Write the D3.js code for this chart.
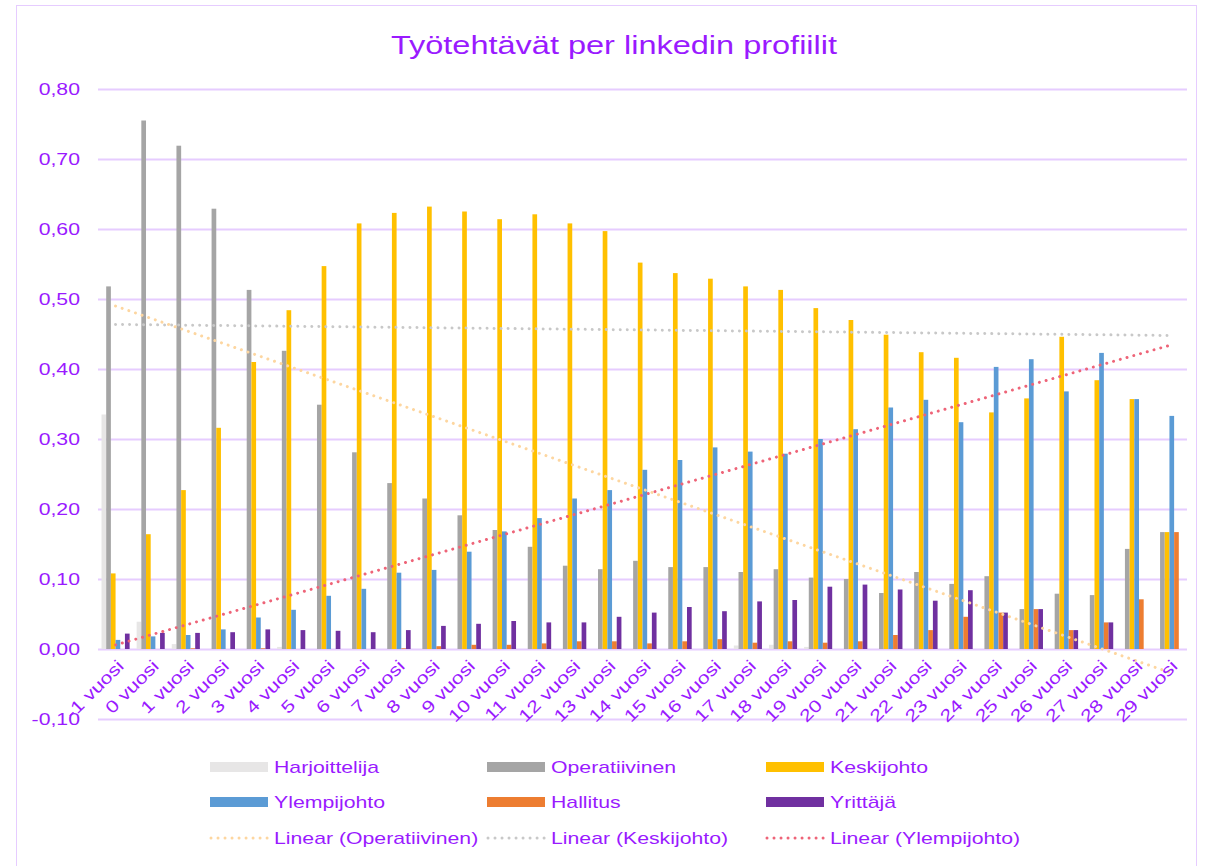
<!DOCTYPE html>
<html>
<head>
<meta charset="utf-8">
<title>Työtehtävät per linkedin profiilit</title>
<script src="https://d3js.org/d3.v7.min.js"></script>
<style>
  body { margin: 0; background: #fff; }
  text { font-family: "Liberation Sans", Arial, sans-serif; fill: #9A1AFF; }
</style>
</head>
<body>
<script type="text/javascript">

var width = 1210,
    height = 866,
    textColor = "#9A1AFF",
    gridColor = "#E6CCFF",
    stretch = 1.25; // the original font is drawn wider than Arial

var margin = { left: 98, right: 23, top: 89, bottom: 147 };

// data
var categories = ["-1 vuosi", "0 vuosi", "1 vuosi", "2 vuosi", "3 vuosi", "4 vuosi", "5 vuosi",
  "6 vuosi", "7 vuosi", "8 vuosi", "9 vuosi", "10 vuosi", "11 vuosi", "12 vuosi", "13 vuosi",
  "14 vuosi", "15 vuosi", "16 vuosi", "17 vuosi", "18 vuosi", "19 vuosi", "20 vuosi", "21 vuosi",
  "22 vuosi", "23 vuosi", "24 vuosi", "25 vuosi", "26 vuosi", "27 vuosi", "28 vuosi", "29 vuosi"];

var harjoittelija = [0.335, 0.039, 0.007, 0, 0, 0.003, 0, 0, 0, 0, 0, 0, 0, 0, 0, 0,
  0, 0, 0.005, 0.006, 0.003, 0, 0, 0, 0, 0, 0, 0, 0, 0, 0];
var operatiivinen = [0.518, 0.755, 0.719, 0.629, 0.513, 0.426, 0.349, 0.281, 0.237, 0.215, 0.191,
  0.170, 0.146, 0.119, 0.114, 0.126, 0.117, 0.117, 0.110, 0.114, 0.102, 0.100, 0.080, 0.110,
  0.093, 0.104, 0.057, 0.079, 0.077, 0.143, 0.167];
var keskijohto = [0.108, 0.164, 0.227, 0.316, 0.410, 0.484, 0.547, 0.608, 0.623, 0.632, 0.625,
  0.614, 0.621, 0.608, 0.597, 0.552, 0.537, 0.529, 0.518, 0.513, 0.487, 0.470, 0.449, 0.424,
  0.416, 0.338, 0.358, 0.446, 0.384, 0.357, 0.167];
var ylempijohto = [0.013, 0.018, 0.020, 0.028, 0.045, 0.056, 0.076, 0.086, 0.109, 0.113, 0.139,
  0.168, 0.187, 0.215, 0.227, 0.256, 0.270, 0.288, 0.282, 0.279, 0.300, 0.314, 0.345, 0.356,
  0.324, 0.403, 0.414, 0.368, 0.423, 0.357, 0.333];
var hallitus = [0, 0, 0.001, 0, 0.001, 0, 0, 0, 0.001, 0.004, 0.006, 0.006, 0.008, 0.011, 0.011,
  0.008, 0.011, 0.014, 0.009, 0.011, 0.009, 0.011, 0.020, 0.027, 0.046, 0.052, 0.057, 0.027,
  0.038, 0.071, 0.167];
var yrittaja = [0.022, 0.023, 0.023, 0.024, 0.028, 0.027, 0.026, 0.024, 0.027, 0.033, 0.036,
  0.040, 0.038, 0.038, 0.046, 0.052, 0.060, 0.054, 0.068, 0.070, 0.089, 0.092, 0.085, 0.069,
  0.084, 0.052, 0.057, 0.027, 0.038, 0, 0];

var yTicks = [-0.1, 0, 0.1, 0.2, 0.3, 0.4, 0.5, 0.6, 0.7, 0.8];

var series = [
  { name: "Harjoittelija", values: harjoittelija, color: "#E7E6E6" },
  { name: "Operatiivinen", values: operatiivinen, color: "#A5A5A5" },
  { name: "Keskijohto", values: keskijohto, color: "#FFC000" },
  { name: "Ylempijohto", values: ylempijohto, color: "#5B9BD5" },
  { name: "Hallitus", values: hallitus, color: "#ED7D31" },
  { name: "Yrittäjä", values: yrittaja, color: "#7030A0" }
];

var trends = [
  { name: "Linear (Operatiivinen)", values: operatiivinen, color: "#FDD6A0" },
  { name: "Linear (Keskijohto)", values: keskijohto, color: "#C8C8C8" },
  { name: "Linear (Ylempijohto)", values: ylempijohto, color: "#EE6478" }
];

var svg = d3.select("body").append("svg")
    .attr("width", width)
    .attr("height", height);

svg.append("rect")
    .attr("x", 16.5).attr("y", 5.5)
    .attr("width", 1180).attr("height", 880)
    .style("fill", "none")
    .style("stroke", gridColor)
    .style("stroke-width", 1);

var x0 = d3.scaleBand()
    .domain(categories)
    .range([margin.left, width - margin.right]);

var bw = x0.bandwidth();

var x1 = d3.scaleBand()
    .domain(series.map(d => d.name))
    .range([bw * 0.1, bw * 0.9]);

var y = d3.scaleLinear()
    .domain([-0.1, 0.8])
    .range([height - margin.bottom, margin.top]);

// gridlines
svg.append("g")
    .attr("class", "grid")
    .attr("transform", "translate(" + margin.left + ",0)")
    .call(d3.axisLeft(y).tickValues(yTicks).tickSize(-(width - margin.left - margin.right)).tickFormat(""))
    .call(g => g.select(".domain").remove())
    .call(g => g.selectAll("line").style("stroke", gridColor).style("stroke-width", 2));

// y labels
svg.append("g")
    .attr("transform", "translate(80,0)")
    .call(d3.axisLeft(y).tickValues(yTicks).tickSize(0).tickPadding(0)
      .tickFormat(d => d3.format(".2f")(d).replace(".", ",").replace("−", "-")))
    .call(g => g.select(".domain").remove())
    .call(g => g.selectAll("text")
      .attr("x", 0)
      .attr("transform", "scale(" + stretch + ",1)")
      .style("font-size", "17px")
      .style("fill", textColor)
      .style("font-family", "'Liberation Sans', Arial, sans-serif"));

// bars
var groups = svg.append("g").selectAll("g")
    .data(categories)
    .enter().append("g")
    .attr("transform", d => "translate(" + x0(d) + ",0)");

groups.selectAll("rect")
    .data((d, i) => series.map(s => ({ name: s.name, color: s.color, v: s.values[i] })))
    .enter().append("rect")
    .attr("x", d => x1(d.name))
    .attr("width", x1.bandwidth())
    .attr("y", d => y(Math.max(0, d.v)))
    .attr("height", d => Math.abs(y(d.v) - y(0)))
    .style("fill", d => d.color);

// linear trendlines (least squares over category index, like Excel)
function linearFit(vals) {
  var n = vals.length, sx = 0, sy = 0, sxy = 0, sxx = 0;
  vals.forEach((v, i) => { var xi = i + 1; sx += xi; sy += v; sxy += xi * v; sxx += xi * xi; });
  var b = (n * sxy - sx * sy) / (n * sxx - sx * sx);
  var a = (sy - b * sx) / n;
  return xi => a + b * xi;
}

var line = d3.line()
    .x(d => x0(categories[d.i]) + bw / 2)
    .y(d => y(d.v));

trends.forEach(function(t) {
  var f = linearFit(t.values);
  var pts = [0, categories.length - 1].map(i => ({ i: i, v: f(i + 1) }));
  svg.append("path")
    .datum(pts)
    .attr("d", line)
    .style("fill", "none")
    .style("stroke", t.color)
    .style("stroke-width", 3)
    .style("stroke-linecap", "round")
    .style("stroke-dasharray", "0.01 7");
});

// x labels
svg.append("g").selectAll("text")
    .data(categories)
    .enter().append("text")
    .attr("transform", d => "translate(" + (x0(d) + bw / 2 + 5) + ",663) rotate(-45) scale(" + stretch + ",1)")
    .attr("text-anchor", "end")
    .attr("dy", "0.35em")
    .style("font-size", "17px")
    .text(d => d);

// title
svg.append("text")
    .attr("transform", "translate(614,54) scale(" + stretch + ",1)")
    .attr("text-anchor", "middle")
    .style("font-size", "26px")
    .text("Työtehtävät per linkedin profiilit");

// legend
var legendItems = series.map(s => ({ name: s.name, color: s.color, dotted: false }))
  .concat(trends.map(t => ({ name: t.name, color: t.color, dotted: true })));
var colX = [210, 487, 766],
    rowY = [767, 802, 838];

var li = svg.append("g").attr("class", "legend").selectAll("g")
    .data(legendItems)
    .enter().append("g")
    .attr("transform", (d, i) => "translate(" + colX[i % 3] + "," + rowY[Math.floor(i / 3)] + ")");

li.filter(d => !d.dotted).append("rect")
    .attr("x", 0).attr("y", -5)
    .attr("width", 58).attr("height", 10)
    .style("fill", d => d.color);

li.filter(d => d.dotted).append("line")
    .attr("x1", 1).attr("x2", 58)
    .style("stroke", d => d.color)
    .style("stroke-width", 3)
    .style("stroke-linecap", "round")
    .style("stroke-dasharray", "0.01 7");

li.append("text")
    .attr("transform", "translate(64,0) scale(" + stretch + ",1)")
    .attr("dy", "0.35em")
    .style("font-size", "17px")
    .text(d => d.name);

</script>
</body>
</html>
